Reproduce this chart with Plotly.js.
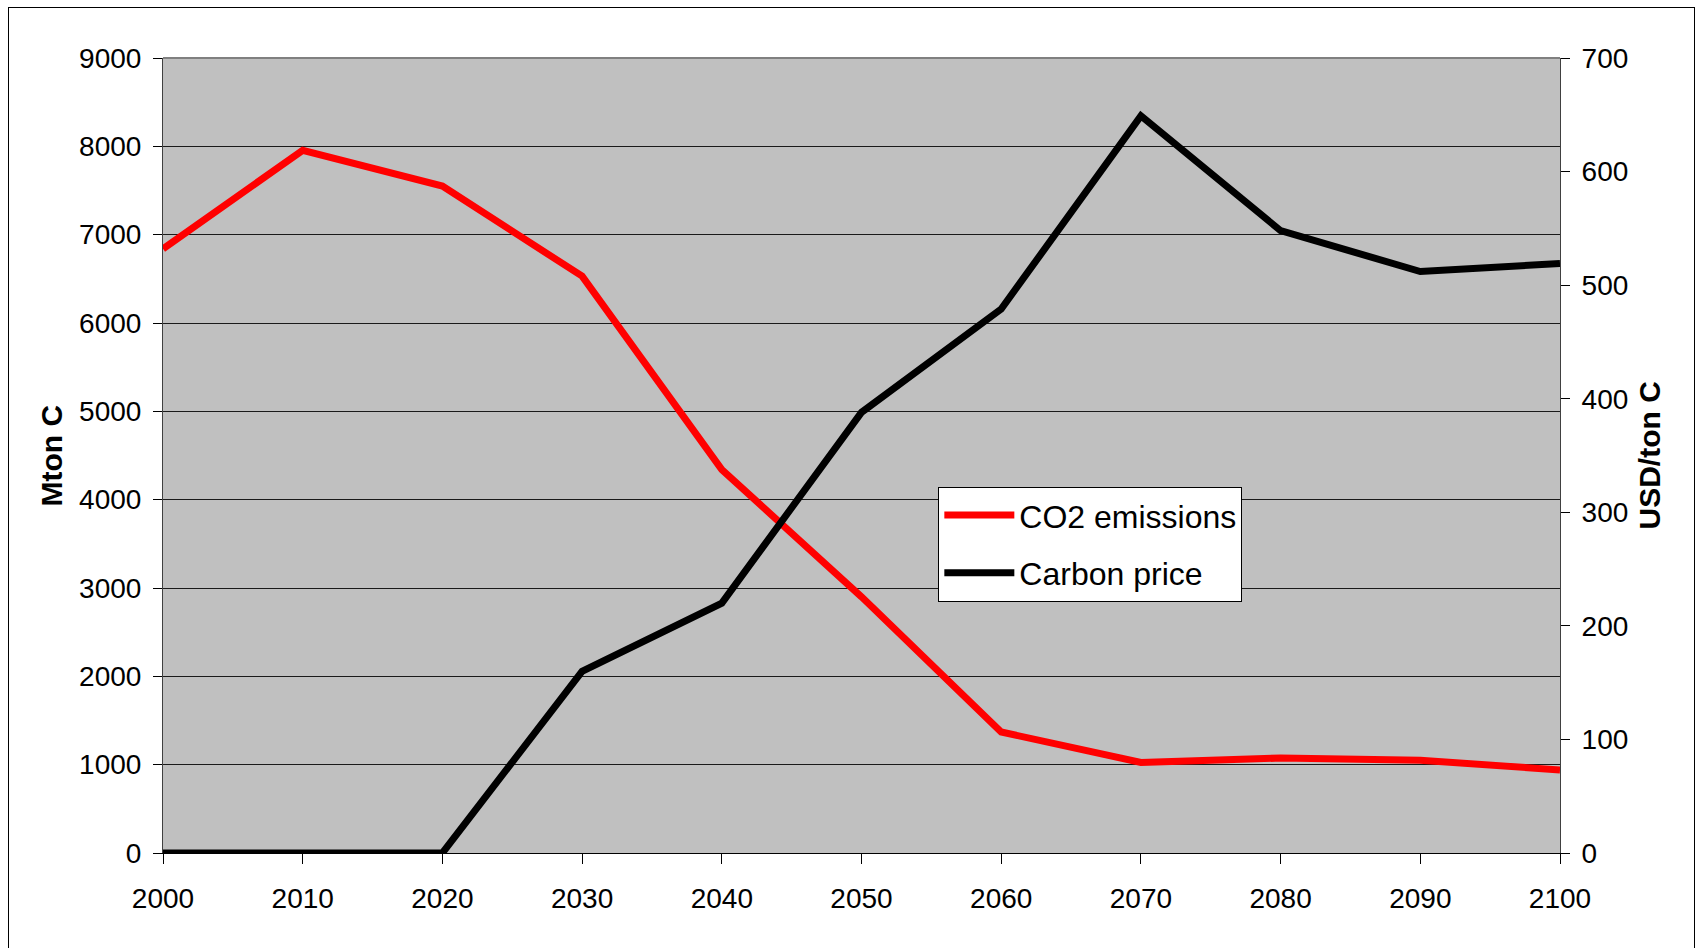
<!DOCTYPE html>
<html>
<head>
<meta charset="utf-8">
<script src="https://cdn.plot.ly/plotly-3.0.1.min.js"></script>
<style>
  html, body { margin: 0; padding: 0; background: #ffffff; }
  #chart { width: 1698px; height: 948px; }
  #frame {
    position: absolute; left: 8px; top: 7px; width: 1687px; height: 960px;
    border: 1px solid #000; pointer-events: none; box-sizing: border-box;
  }
</style>
</head>
<body>
<div id="chart"></div>
<div id="frame"></div>
<script>
// Years on the horizontal axis
const years = [2000, 2010, 2020, 2030, 2040, 2050, 2060, 2070, 2080, 2090, 2100];

// CO2 emissions, Mton C (left axis)
const co2Emissions = [6840, 7955, 7550, 6530, 4340, 2900, 1370, 1025, 1075, 1050, 940];

// Carbon price, USD/ton C (right axis)
const carbonPrice = [0, 0, 0, 160, 220, 388, 479, 649, 548, 512, 519];

const seriesNames = ['CO2 emissions', 'Carbon price'];
const axisTitles = ['Mton C', 'USD/ton C'];

const tickFont = { family: '"Liberation Sans", Arial, sans-serif', size: 28, color: '#000' };
const titleFont = { family: '"Liberation Sans", Arial, sans-serif', size: 30, color: '#000' };

const traces = [
  {
    x: years, y: co2Emissions, name: seriesNames[0], type: 'scatter', mode: 'lines',
    line: { color: '#ff0000', width: 7 }, yaxis: 'y', legendgroup: 'emissions'
  },
  {
    x: years, y: carbonPrice, name: seriesNames[1], type: 'scatter', mode: 'lines',
    line: { color: '#000000', width: 7 }, yaxis: 'y2', legendgroup: 'price'
  }
];

const layout = {
  width: 1698, height: 948,
  margin: { l: 163, r: 138, t: 58, b: 95 },
  paper_bgcolor: '#ffffff',
  plot_bgcolor: '#c0c0c0',
  showlegend: true,
  legend: {
    x: 0.555, y: 0.4606, xanchor: 'left', yanchor: 'top',
    bgcolor: '#ffffff', bordercolor: '#000', borderwidth: 1,
    font: { family: tickFont.family, size: 32, color: '#000' },
    itemwidth: 70,
    tracegroupgap: 13
  },
  xaxis: {
    range: [2000, 2100], tick0: 2000, dtick: 10,
    showgrid: false, zeroline: false,
    showline: true, linecolor: '#000', linewidth: 1,
    ticks: 'outside', ticklen: 10, tickcolor: '#000', tickwidth: 1,
    ticklabelstandoff: 10,
    tickfont: tickFont, fixedrange: true
  },
  yaxis: {
    range: [0, 9000], tick0: 0, dtick: 1000,
    showgrid: true, gridcolor: '#1a1a1a', gridwidth: 1,
    zeroline: false,
    showline: true, linecolor: '#404040', linewidth: 1,
    ticks: 'outside', ticklen: 9, tickcolor: '#000', tickwidth: 1,
    ticklabelstandoff: 6,
    tickfont: tickFont, fixedrange: true
  },
  yaxis2: {
    range: [0, 700], tick0: 0, dtick: 100,
    overlaying: 'y', side: 'right',
    showgrid: false, zeroline: false,
    showline: true, linecolor: '#404040', linewidth: 1,
    ticks: 'outside', ticklen: 9, tickcolor: '#000', tickwidth: 1,
    ticklabelstandoff: 6,
    tickfont: tickFont, fixedrange: true
  },
  shapes: [
    { type: 'line', xref: 'paper', yref: 'paper', x0: 0, x1: 1, y0: 1, y1: 1,
      line: { color: '#808080', width: 2 } }
  ],
  annotations: [
    { text: '<b>' + axisTitles[0] + '</b>', xref: 'paper', yref: 'paper',
      x: -0.0795, y: 0.5, xanchor: 'center', yanchor: 'middle',
      textangle: -90, showarrow: false, font: titleFont },
    { text: '<b>' + axisTitles[1] + '</b>', xref: 'paper', yref: 'paper',
      x: 1.0644, y: 0.5, xanchor: 'center', yanchor: 'middle',
      textangle: -90, showarrow: false, font: titleFont }
  ]
};

Plotly.newPlot('chart', traces, layout, { staticPlot: true, displayModeBar: false });
</script>
</body>
</html>
